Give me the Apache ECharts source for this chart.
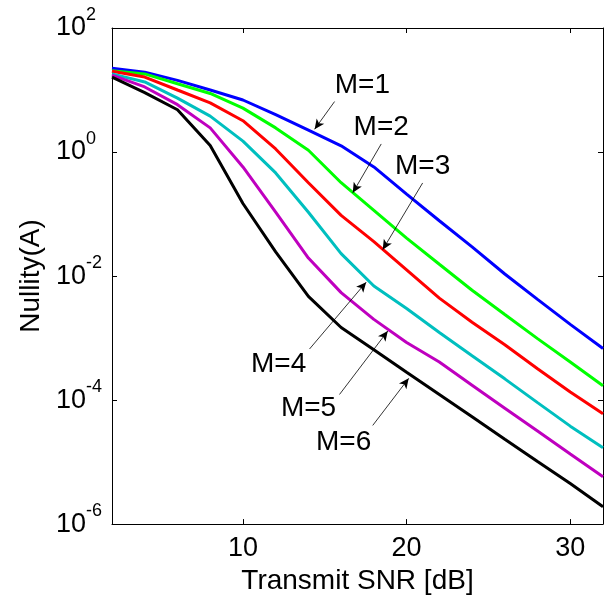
<!DOCTYPE html>
<html>
<head>
<meta charset="utf-8">
<script src="https://cdn.jsdelivr.net/npm/echarts@6/dist/echarts.min.js"></script>
<style>
  html, body { margin: 0; padding: 0; background: #fff; }
  #chart { width: 606px; height: 600px; }
</style>
</head>
<body>
<div id="chart"></div>
<script>
// Transmit SNR grid (dB)
const snr = [2, 4, 6, 8, 10, 12, 14, 16, 18, 20, 22, 24, 26, 28, 30, 32];

// Nullity(A) for each number of antennas M
const nullM1 = [22.4, 19.4, 14.3, 10.0, 6.9, 4.0, 2.25, 1.26, 0.575, 0.21, 0.078, 0.0295, 0.0108, 0.0042, 0.00166, 0.00068];
const nullM2 = [20.4, 18.2, 12.6, 8.8, 5.1, 2.45, 1.07, 0.32, 0.115, 0.041, 0.0155, 0.0059, 0.0024, 0.00098, 0.00041, 0.00017];
const nullM3 = [20.0, 16.2, 10.0, 6.2, 3.2, 1.12, 0.32, 0.095, 0.036, 0.0126, 0.0044, 0.0018, 0.00078, 0.00032, 0.000135, 0.00006];
const nullM4 = [18.2, 13.5, 7.4, 3.8, 1.5, 0.46, 0.107, 0.023, 0.0069, 0.003, 0.00123, 0.00052, 0.00022, 0.000091, 0.000038, 0.000017];
const nullM5 = [17.4, 11.2, 5.8, 2.45, 0.575, 0.107, 0.0195, 0.0054, 0.002, 0.00085, 0.00041, 0.000174, 0.000074, 0.0000316, 0.0000135, 0.0000058];
const nullM6 = [16.2, 9.1, 4.8, 1.27, 0.148, 0.0245, 0.0047, 0.00148, 0.00065, 0.00028, 0.000123, 0.000054, 0.0000234, 0.0000102, 0.0000045, 0.0000019];

const seriesNames = ['M=1', 'M=2', 'M=3', 'M=4', 'M=5', 'M=6'];
const seriesValues = [nullM1, nullM2, nullM3, nullM4, nullM5, nullM6];
const seriesColors = ['#0000ff', '#00ff00', '#ff0000', '#00bfbf', '#bf00bf', '#000000'];

// Tick labels
const xTicks = [10, 20, 30];
const yTicks = [1e-6, 1e-4, 1e-2, 1, 1e2];

// Callout text and arrows, in data coordinates: [snr, nullity]
const calloutText = [[17.3, 11.8], [18.45, 2.55], [20.98, 0.597], [12.18, 3.76e-4], [14.01, 7.35e-5], [16.15, 2.07e-5]];
const arrowTail = [[15.6, 6.52], [18.45, 1.35], [20.98, 0.317], [14.07, 6.67e-4], [15.9, 1.23e-4], [17.93, 3.9e-5]];
const arrowTip = [[14.38, 2.33], [16.71, 0.22], [18.54, 0.0266], [17.53, 7.96e-3], [18.85, 1.3e-3], [20.13, 2.24e-4]];

const FONT = '"Liberation Sans", Arial, sans-serif';

const chart = echarts.init(document.getElementById('chart'), null, { renderer: 'canvas' });

const lineSeries = seriesValues.map((vals, i) => ({
  name: seriesNames[i],
  type: 'line',
  data: snr.map((x, k) => [x, vals[k]]),
  showSymbol: false,
  symbol: 'none',
  lineStyle: { color: seriesColors[i], width: 3 },
  itemStyle: { color: seriesColors[i] },
  z: 3,
  markLine: {
    silent: true,
    animation: false,
    symbol: ['none', 'arrow'],
    symbolSize: [7, 10],
    lineStyle: { color: '#000', width: 0.8, type: 'solid' },
    label: { show: false },
    data: [[{ coord: arrowTail[i] }, { coord: arrowTip[i] }]]
  },
  markPoint: {
    silent: true,
    animation: false,
    symbol: 'rect',
    symbolSize: 1,
    itemStyle: { color: 'rgba(0,0,0,0)' },
    label: {
      show: true,
      position: 'inside',
      formatter: '{b}',
      color: '#000',
      fontFamily: FONT,
      fontSize: 28
    },
    data: [{ name: seriesNames[i], coord: calloutText[i] }]
  }
}));

const axisLineStyle = { show: true, lineStyle: { color: '#000', width: 1 } };

chart.setOption({
  animation: false,
  backgroundColor: '#fff',
  grid: { left: 112, right: 3, top: 28, bottom: 65, containLabel: false },
  xAxis: [
    {
      type: 'value',
      min: 2,
      max: 32,
      position: 'bottom',
      axisLine: axisLineStyle,
      axisTick: { show: true, inside: true, length: 5, customValues: xTicks, lineStyle: { color: '#000' } },
      axisLabel: { show: true, customValues: xTicks, color: '#000', fontFamily: FONT, fontSize: 27, margin: 11 },
      splitLine: { show: false },
      name: 'Transmit SNR [dB]',
      nameLocation: 'middle',
      nameGap: 33,
      nameTextStyle: { color: '#000', fontFamily: FONT, fontSize: 28 }
    },
    {
      type: 'value',
      min: 2,
      max: 32,
      position: 'top',
      axisLine: axisLineStyle,
      axisTick: { show: true, inside: true, length: 5, customValues: xTicks, lineStyle: { color: '#000' } },
      axisLabel: { show: false },
      splitLine: { show: false }
    }
  ],
  yAxis: [
    {
      type: 'log',
      logBase: 10,
      min: 1e-6,
      max: 1e2,
      position: 'left',
      axisLine: axisLineStyle,
      axisTick: { show: true, inside: true, length: 5, customValues: yTicks, lineStyle: { color: '#000' } },
      minorTick: { show: false },
      axisLabel: {
        show: true,
        customValues: yTicks,
        align: 'left',
        margin: 56,
        formatter: function (v) {
          const e = Math.round(Math.log10(v));
          return '{b|10}{e|' + e + '}';
        },
        rich: {
          b: { fontFamily: FONT, fontSize: 27, color: '#000', lineHeight: 44 },
          e: { fontFamily: FONT, fontSize: 18, color: '#000', lineHeight: 18, verticalAlign: 'top' }
        }
      },
      splitLine: { show: false },
      name: 'Nullity(A)',
      nameLocation: 'middle',
      nameGap: 66,
      nameRotate: 90,
      nameTextStyle: { color: '#000', fontFamily: FONT, fontSize: 28 }
    },
    {
      type: 'log',
      logBase: 10,
      min: 1e-6,
      max: 1e2,
      position: 'right',
      axisLine: axisLineStyle,
      axisTick: { show: true, inside: true, length: 5, customValues: yTicks, lineStyle: { color: '#000' } },
      minorTick: { show: false },
      axisLabel: { show: false },
      splitLine: { show: false }
    }
  ],
  series: lineSeries
});
</script>
</body>
</html>
